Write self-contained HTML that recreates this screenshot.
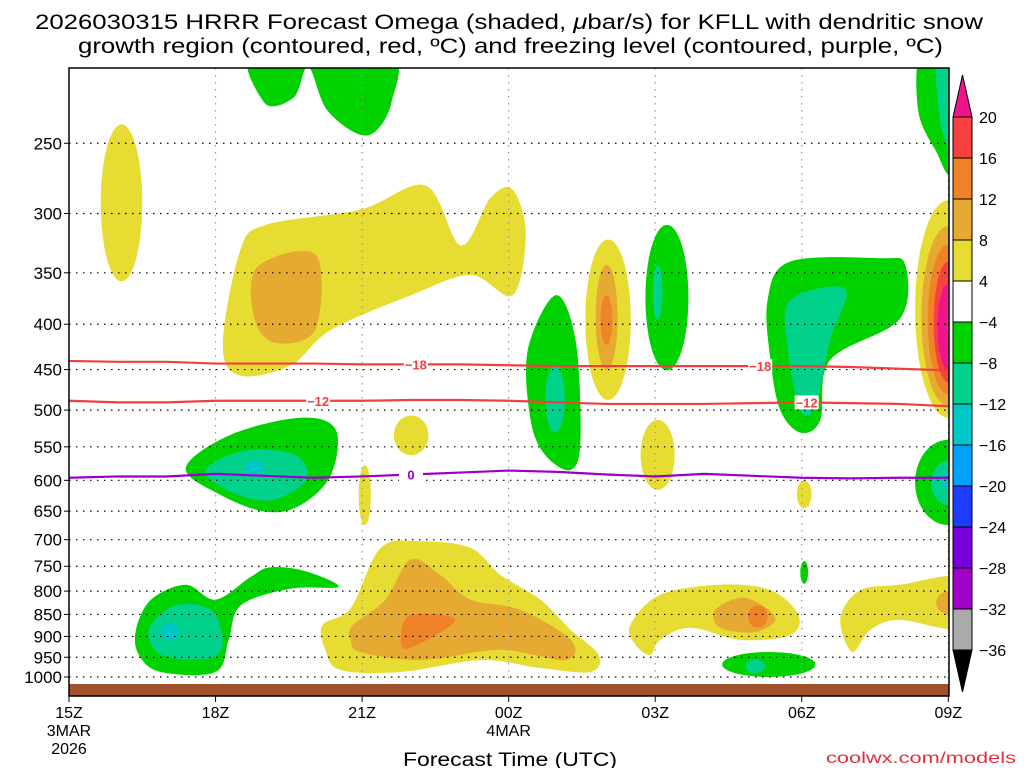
<!DOCTYPE html>
<html><head><meta charset="utf-8"><style>
html,body{margin:0;padding:0;background:#fff;width:1024px;height:768px;overflow:hidden}
svg{display:block;font-family:"Liberation Sans","DejaVu Sans",sans-serif}
</style></head><body>
<svg id="chart" width="1024" height="768" viewBox="0 0 1024 768" xmlns="http://www.w3.org/2000/svg">
<text x="35" y="29" font-size="21" textLength="948" lengthAdjust="spacingAndGlyphs" fill="#000">2026030315 HRRR Forecast Omega (shaded, <tspan font-style="italic">μ</tspan>bar/s) for KFLL with dendritic snow</text>
<text x="78" y="53" font-size="21" textLength="865" lengthAdjust="spacingAndGlyphs" fill="#000">growth region (contoured, red, ºC) and freezing level (contoured, purple, ºC)</text>
<defs><clipPath id="plotclip"><rect x="69" y="68" width="880" height="628"/></clipPath></defs>
<g id="shading" clip-path="url(#plotclip)"></g>
<g id="grid"></g>
<g id="contours"></g>
<rect x="69" y="684" width="880" height="12" fill="#a0522d"/>
<rect x="69" y="68" width="880" height="628" fill="none" stroke="#000" stroke-width="1.5"/>
<g id="axes"></g>
<g id="colorbar"></g>
<text x="403" y="766" font-size="19" textLength="214" lengthAdjust="spacingAndGlyphs">Forecast Time (UTC)</text>
<text x="826" y="763" font-size="16" textLength="190" lengthAdjust="spacingAndGlyphs" fill="#e0303c">coolwx.com/models</text>
</svg>
<script>
// ---- data ----
const pressureTicks = [250,300,350,400,450,500,550,600,650,700,750,800,850,900,950,1000];
const timeTickHours = [0,3,6,9,12,15,18];
const timeTickLabels = ["15Z","18Z","21Z","00Z","03Z","06Z","09Z"];
const dateLabels = [["3MAR","2026"],[],[],["4MAR"],[],[],[]];
const contourHours = [0,1,2,3,4,5,6,7,8,9,10,11,12,13,14,15,16,17,18];
const minus18Line = [440,441,441,443,443,443,444,444,444,445,446,446,446,446,446,446,447,449,451];
const minus12Line = [488,490,490,488,488,488,488,487,487,488,490,492,492,492,491,490,491,492,495];
const freezingLine = [596,594,594,590,593,596,594,591,588,585,587,591,594,590,593,596,597,596,596];
const colorLevels = [20,16,12,8,4,-4,-8,-12,-16,-20,-24,-28,-32,-36];
const colorFills = ["#f0148c","#f84040","#f08228","#e6aa32","#e6dc32","#ffffff","#00d200","#00d28c","#00c8c8","#00a0ff","#1e3cff","#7800dc","#a000c8","#aaaaaa","#000000"];
// shaded regions: [level, [[hour, hPa], ...]]
const polyRegions = [
 [6,[[3.15,422],[3.5,331],[4.03,309],[5.97,297],[7.3,279],[8.02,326],[8.63,288],[9.08,282],[9.35,316],[9.08,371],[8.22,352],[7.0,371],[5.36,406],[4.54,445],[3.5,457]]],
 [10,[[3.85,345],[5.05,334],[5.05,405],[4.25,420],[3.8,395]]],
 [-6,[[9.96,371],[10.37,417],[10.47,540],[10.27,584],[9.75,562],[9.45,513],[9.39,428]]],
 [-6,[[14.3,376],[14.76,340],[16.6,337],[17.12,343],[17.0,395],[15.58,439],[15.38,513],[14.97,530],[14.56,500],[14.36,439]]],
 [-10,[[14.76,376],[15.89,365],[15.58,417],[15.27,494],[14.97,500],[14.72,428]]],
 [-6,[[2.39,581],[3.31,533],[4.74,510],[5.46,526],[5.36,592],[4.74,640],[4.03,651],[3.1,623]]],
 [-10,[[2.8,584],[3.62,555],[4.64,562],[4.85,600],[4.13,632],[3.31,618]]],
 [-6,[[1.37,885],[1.68,818],[2.39,787],[3.0,818],[3.72,771],[4.13,752],[4.85,760],[5.52,791],[4.54,795],[3.52,830],[3.27,908],[3.0,987],[1.88,987],[1.43,944]]],
 [-10,[[1.64,881],[2.19,830],[2.9,840],[3.15,908],[2.9,952],[1.88,944]]],
 [6,[[5.19,874],[5.77,836],[6.38,715],[7.2,703],[8.22,715],[8.83,767],[9.65,818],[10.27,885],[10.84,944],[10.67,987],[9.65,977],[8.43,957],[6.79,987],[5.56,982],[5.25,932]]],
 [10,[[5.81,874],[6.48,818],[6.99,737],[7.6,767],[8.22,818],[9.24,840],[10.27,908],[10.16,957],[8.83,932],[7.2,957],[5.97,937],[5.77,908]]],
 [14,[[6.79,908],[6.99,851],[7.91,862],[6.99,927]]],
 [6,[[11.49,874],[12.1,808],[13.33,787],[14.36,798],[14.93,851],[14.76,897],[13.74,908],[12.72,880],[12.1,908],[11.9,944],[11.6,920]]],
 [10,[[13.23,840],[13.84,814],[14.46,857],[14.05,890],[13.33,880]]],
 [6,[[15.79,858],[16.2,798],[17.01,787],[18.3,773],[18.3,880],[17.0,862],[16.4,885],[16.03,937]]],
 [-6,[[17.46,195],[17.38,229],[17.73,254],[18.1,268],[18.3,195]]],
 [-10,[[17.77,195],[17.83,235],[18.1,252],[18.3,195]]],
 [-6,[[3.8,195],[4.0,225],[4.6,222],[4.9,205],[5.3,230],[6.1,245],[6.6,225],[6.5,195]]]
];
// ellipse regions: [level, hour1, hour2, pTop, pBot]
const ellRegions = [
 [6,0.65,1.5,238,358],
 [-10,9.75,10.15,445,530],
 [6,10.57,11.5,321,487],[10,10.78,11.23,343,450],[14,10.88,11.12,371,422],
 [-6,11.8,12.68,309,451],[-10,11.95,12.15,343,395],
 [6,11.7,12.4,513,615],[6,6.65,7.36,507,562],[6,5.93,6.18,577,674],[6,14.9,15.2,600,645],[-6,14.97,15.13,740,785],
 [-14,3.6,4.0,570,592],[-14,1.9,2.25,870,910],
 [14,13.9,14.3,830,880],[10,17.75,18.3,800,850],
 [-6,13.37,15.28,937,1000],[-10,13.85,14.25,955,990],
 [6,17.32,18.68,290,510],[10,17.45,18.55,310,495],[14,17.58,18.42,325,480],[18,17.7,18.3,340,465],[22,17.78,18.22,360,450],
 [-6,17.32,18.68,540,674],[-10,17.65,18.35,570,640],[-14,17.85,18.15,585,615]
];
// ---- axis functions ----
const X0=69, PXH=48.85, YREF=677, PXLN=385;
function xs(h){return X0+h*PXH;}
function yp(p){return YREF+PXLN*Math.log(p/1000);}
function fillFor(v){
  if(v>20) return colorFills[0];
  for(let i=0;i<colorLevels.length-1;i++){ if(v<=colorLevels[i]&&v>colorLevels[i+1]) return colorFills[i+1]; }
  return colorFills[colorFills.length-1];
}
const NS="http://www.w3.org/2000/svg";
function mk(tag,attrs,parent){const e=document.createElementNS(NS,tag);for(const k in attrs)e.setAttribute(k,attrs[k]);parent.appendChild(e);return e;}
function smoothPath(pts){
  const n=pts.length;let d=`M${pts[0][0]},${pts[0][1]}`;
  for(let i=0;i<n;i++){const p0=pts[(i-1+n)%n],p1=pts[i],p2=pts[(i+1)%n],p3=pts[(i+2)%n];
    const c1=[p1[0]+(p2[0]-p0[0])/6,p1[1]+(p2[1]-p0[1])/6],c2=[p2[0]-(p3[0]-p1[0])/6,p2[1]-(p3[1]-p1[1])/6];
    d+=`C${c1[0]},${c1[1]} ${c2[0]},${c2[1]} ${p2[0]},${p2[1]}`;}
  return d+"Z";
}
const shading=document.getElementById('shading');
const shapes=[];
polyRegions.forEach(r=>shapes.push({lv:r[0],kind:'p',pts:r[1]}));
ellRegions.forEach(r=>shapes.push({lv:r[0],kind:'e',r:r}));
shapes.sort((a,b)=>Math.abs(a.lv)-Math.abs(b.lv));
shapes.forEach(s=>{
  let e;
  if(s.kind==='p'){
    e=mk('path',{d:smoothPath(s.pts.map(q=>[xs(q[0]),yp(q[1])])),fill:fillFor(s.lv)},shading);
  } else {
    const r=s.r,x1=xs(r[1]),x2=xs(r[2]),y1=yp(r[3]),y2=yp(r[4]);
    e=mk('ellipse',{cx:(x1+x2)/2,cy:(y1+y2)/2,rx:(x2-x1)/2,ry:(y2-y1)/2,fill:fillFor(s.lv)},shading);
  }
  
  
});
const grid=document.getElementById('grid');
pressureTicks.forEach(p=>{
  const l=mk('line',{x1:X0,x2:949,y1:yp(p),y2:yp(p),stroke:'#000','stroke-width':1.2,'stroke-dasharray':'1.5,5.5'},grid);
  
  
});
timeTickHours.forEach((h,i)=>{
  if(i===0)return;
  const l=mk('line',{x1:xs(h),x2:xs(h),y1:68,y2:684,stroke:'#999','stroke-width':1.2,'stroke-dasharray':'1.5,5.5'},grid);
  
  
});
const cont=document.getElementById('contours');
function drawLine(vals,color,name,labels,txt){
  const pts=contourHours.map((h,i)=>[xs(h),yp(vals[i])]);
  let d='M'+pts.map(p=>p.join(',')).join(' L');
  const pl=mk('path',{d:d,fill:'none',stroke:color,'stroke-width':2.2},cont);
  
  
  labels.forEach(h=>{
    const i=Math.floor(h),f=h-i,v=vals[i]+(vals[Math.min(i+1,vals.length-1)]-vals[i])*f;
    const x=xs(h),y=yp(v);
    const bg=mk('rect',{x:x-12,y:y-7,width:24,height:14,fill:'#fff'},cont);
    
    
    const t=mk('text',{x:x,y:y+5,'font-size':13,'font-weight':'bold','text-anchor':'middle',fill:color},cont);
    t.textContent=txt;
    
    
  });
}
drawLine(minus18Line,'#f04040','minus18-contour',[7.1,14.15],'−18');
drawLine(minus12Line,'#f04040','minus12-contour',[5.1,15.1],'−12');
drawLine(freezingLine,'#9a00c8','freezing-level-contour',[7.0],'0');
const axes=document.getElementById('axes');
pressureTicks.forEach(p=>{
  const t=mk('text',{x:62,y:yp(p)+6,'font-size':17,'text-anchor':'end',fill:'#000'},axes);
  t.textContent=p;
  
  
  const tk=mk('line',{x1:X0-5,x2:X0,y1:yp(p),y2:yp(p),stroke:'#000'},axes);
  
  
});
timeTickHours.forEach((h,i)=>{
  const x=xs(h);
  const tk=mk('line',{x1:x,x2:x,y1:696,y2:702,stroke:'#000'},axes);
  
  
  const t=mk('text',{x:x,y:718,'font-size':16,'text-anchor':'middle'},axes);
  t.textContent=timeTickLabels[i];
  
  
  dateLabels[i].forEach((s,j)=>{
    const d=mk('text',{x:x,y:736+j*18,'font-size':16,'text-anchor':'middle'},axes);
    d.textContent=s;
    
    
  });
});
const cb=document.getElementById('colorbar');
const CBX=953,CBW=19,CBTOP=117,CBSTEP=41;
const tri1=mk('polygon',{points:`${CBX},${CBTOP} ${CBX+CBW},${CBTOP} ${CBX+CBW/2},${CBTOP-42}`,fill:colorFills[0],stroke:'#000'},cb);


for(let i=0;i<colorLevels.length-1;i++){
  const r=mk('rect',{x:CBX,y:CBTOP+i*CBSTEP,width:CBW,height:CBSTEP,fill:colorFills[i+1],stroke:'#000'},cb);
  
  
}
const yb=CBTOP+(colorLevels.length-1)*CBSTEP;
const tri2=mk('polygon',{points:`${CBX},${yb} ${CBX+CBW},${yb} ${CBX+CBW/2},${yb+42}`,fill:'#000',stroke:'#000'},cb);


colorLevels.forEach((v,i)=>{
  const t=mk('text',{x:979,y:CBTOP+i*CBSTEP+6,'font-size':16},cb);
  t.textContent=v<0?'−'+Math.abs(v):String(v);
  
  
});
</script>
</body></html>
